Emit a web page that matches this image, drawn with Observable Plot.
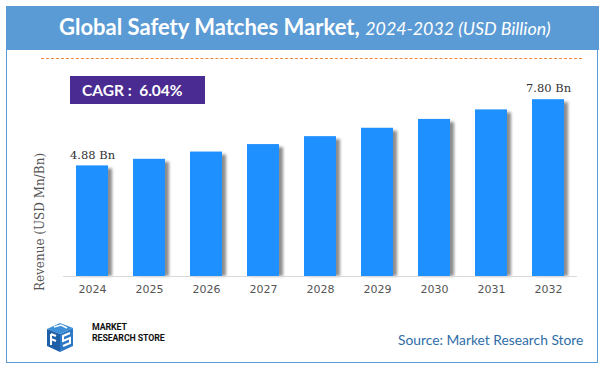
<!DOCTYPE html>
<html><head><meta charset="utf-8">
<script src="https://cdn.jsdelivr.net/npm/d3@7"></script>
<script src="https://cdn.jsdelivr.net/npm/@observablehq/plot@0.6"></script>
<style>
html,body{margin:0;padding:0;background:#fff;}
#wrap{position:relative;width:606px;height:373px;overflow:hidden;font-family:Lato,"Open Sans",sans-serif;}
#frame{position:absolute;left:6px;top:6px;width:590px;height:355px;border:1.5px solid #5B9BD5;}
#header{position:absolute;left:6px;top:6px;width:593px;height:44px;background:#5B9BD5;color:#fff;white-space:nowrap;}
#title{position:absolute;left:53px;top:7px;font-size:22px;}
#title b{font-weight:700;}
#title i{font-weight:400;font-size:17.8px;}
#dash{position:absolute;left:41px;top:58px;width:541px;height:0;border-top:1.2px dashed #F0883E;}
#cagr{position:absolute;left:70px;top:76px;width:135px;height:28px;background:#4A2B91;color:#fff;font-weight:700;font-size:15.5px;line-height:28px;box-sizing:border-box;padding-left:12px;white-space:nowrap;}
#plot{position:absolute;left:0;top:60px;}
#ylab{position:absolute;left:40px;top:222px;transform:translate(-50%,-50%) rotate(-90deg);font-family:"DejaVu Serif",serif;font-size:12px;color:#555;white-space:nowrap;}
#source{position:absolute;left:398px;top:331px;font-size:13.8px;color:#2F6DA8;white-space:nowrap;}
#logo{position:absolute;left:44px;top:320px;}
.lt{position:absolute;left:92px;font-family:Roboto,sans-serif;font-weight:700;font-size:8.8px;line-height:9px;height:9px;color:#111;letter-spacing:-0.1px;white-space:nowrap;}
</style></head>
<body>
<div id="wrap">
  <div id="frame"></div>
  <div id="header"><div id="title"><b>Global Safety Matches Market,</b> <i>2024-2032 (USD Billion)</i></div></div>
  <div id="dash"></div>
  <div id="plot"></div>
  <div id="cagr">CAGR :&nbsp; 6.04%</div>
  <div id="ylab">Revenue (USD Mn/Bn)</div>
  <svg id="logo" width="32" height="34" viewBox="0 0 32 34">
    <polygon points="3,9 16,3 29,8 16,14" fill="#3D8FD8"/>
    <polygon points="3,9 16,14 16,32 3,26" fill="#1F5FA8"/>
    <polygon points="16,14 29,8 29,26 16,32" fill="#2B78C6"/>
    <path d="M7,14 L12,16 M7,19 L12,21 M7,14 L7,25" stroke="#fff" stroke-width="2" fill="none"/>
    <path d="M26,13 L19,16 L19,21 L26,18 L26,23 L19,26" stroke="#fff" stroke-width="2" fill="none"/>
    <path d="M10,7 L17,5 L23,8" stroke="#fff" stroke-width="1.6" fill="none"/>
  </svg>
  <div class="lt" style="top:323px">MARKET</div>
  <div class="lt" style="top:334px">RESEARCH STORE</div>
  <div id="source">Source: Market Research Store</div>
</div>
<script>
const years = ["2024","2025","2026","2027","2028","2029","2030","2031","2032"];
const revenue = [4.88, 5.17, 5.49, 5.82, 6.17, 6.54, 6.93, 7.35, 7.80];
const labelYears = ["2024","2032"];
const labelTexts = ["4.88 Bn","7.80 Bn"];

const data = years.map((y,i)=>({year:y, value:revenue[i]}));
const labels = labelYears.map((y,i)=>({year:y, value:revenue[years.indexOf(y)], text:labelTexts[i]}));

const chart = Plot.plot({
  width: 606,
  height: 245,
  marginLeft: 63,
  marginRight: 29,
  marginTop: 12,
  marginBottom: 29,
  style: {background:"transparent", overflow:"visible"},
  x: {type:"band", domain: years, paddingInner:0.44, paddingOuter:0.22, label:null},
  y: {domain:[0,9], axis:null},
  marks: [
    Plot.barY(data, {x:"year", y:"value", fill:"#8c8c8c", dx:4, insetTop:3, className:"shadow"}),
    Plot.barY(data, {x:"year", y:"value", fill:"#1E90FF"}),
    Plot.ruleY([0], {stroke:"#d9d9d9", strokeWidth:1.2}),
    Plot.text(labels, {x:"year", y:"value", text:"text", dy:-11, fontFamily:"DejaVu Serif", fontSize:11.5, fill:"#333"}),
    Plot.axisX({tickSize:0, tickPadding:9, fontFamily:"DejaVu Sans", fontSize:11, color:"#555", label:null})
  ]
});
document.getElementById("plot").appendChild(chart);

const svg = d3.select(chart);
const defs = svg.insert("defs", ":first-child");
defs.append("filter").attr("id","blurShadow").attr("x","-50%").attr("width","200%")
  .append("feGaussianBlur").attr("stdDeviation", 1.4);
svg.selectAll("g.shadow").attr("filter","url(#blurShadow)");
</script>
</body></html>
